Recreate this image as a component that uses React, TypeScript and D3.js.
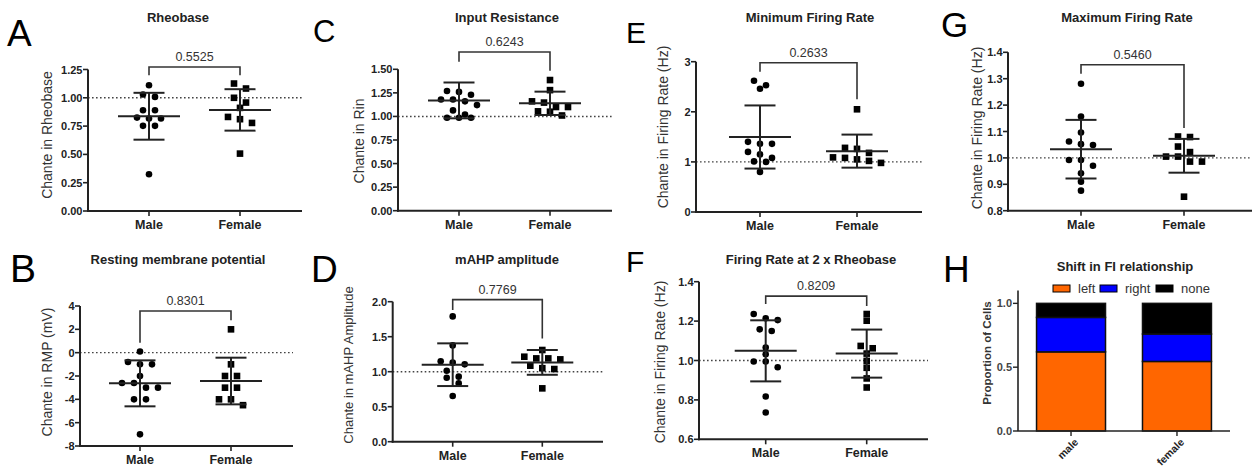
import React from 'react';
import * as d3 from 'd3';

const groups = ['Male', 'Female'];

// A: Rheobase
const rheobaseMale = [1.111, 1.029, 1.008, 0.89, 0.89, 0.825, 0.817, 0.817, 0.752, 0.752, 0.324];
const rheobaseFemale = [1.126, 1.082, 1.0, 0.958, 0.911, 0.831, 0.811, 0.778, 0.507];
const rheobaseMean = [0.837, 0.893];
const rheobaseSD = [0.207, 0.183];
const rheobaseTicks = [0, 0.25, 0.5, 0.75, 1.0, 1.25];
const rheobaseP = '0.5525';

// C: Input resistance
const rinMale = [1.27, 1.26, 1.23, 1.18, 1.18, 1.16, 1.12, 1.064, 1.02, 0.986, 0.986, 0.986];
const rinFemale = [1.386, 1.279, 1.16, 1.147, 1.1, 1.1, 1.054, 1.05, 1.01];
const rinMean = [1.17, 1.139];
const rinSD = [0.19, 0.124];
const rinTicks = [0, 0.25, 0.5, 0.75, 1.0, 1.25, 1.5];
const rinP = '0.6243';

// E: Minimum firing rate
const minRateMale = [2.62, 2.53, 2.46, 1.4, 1.36, 1.36, 1.2, 1.15, 1.08, 1.01, 1.0, 0.8];
const minRateFemale = [2.05, 1.28, 1.26, 1.18, 1.09, 1.08, 1.05, 1.02, 0.98];
const minRateMean = [1.497, 1.215];
const minRateSD = [0.63, 0.33];
const minRateTicks = [0, 1, 2, 3];
const minRateP = '0.2633';

// G: Maximum firing rate
const maxRateMale = [1.281, 1.157, 1.096, 1.062, 1.052, 1.049, 0.992, 0.992, 0.97, 0.942, 0.91, 0.876];
const maxRateFemale = [1.081, 1.079, 1.043, 1.022, 1.005, 1.005, 0.986, 0.986, 0.853];
const maxRateMean = [1.033, 1.008];
const maxRateSD = [0.111, 0.064];
const maxRateTicks = [0.8, 0.9, 1.0, 1.1, 1.2, 1.3, 1.4];
const maxRateP = '0.5460';

// B: Resting membrane potential
const rmpMale = [0.1, -0.8, -1.0, -1.0, -2.0, -2.6, -2.6, -3.0, -3.0, -4.0, -4.0, -7.0];
const rmpFemale = [2.0, -1.0, -2.0, -2.0, -3.0, -3.0, -4.0, -4.0, -4.5];
const rmpMean = [-2.63, -2.43];
const rmpSD = [1.97, 2.0];
const rmpTicks = [-8, -6, -4, -2, 0, 2, 4];
const rmpP = '0.8301';

// D: mAHP amplitude
const mahpMale = [1.79, 1.376, 1.148, 1.129, 1.105, 1.014, 0.929, 0.914, 0.833, 0.652];
const mahpFemale = [1.31, 1.214, 1.19, 1.19, 1.176, 1.086, 1.05, 1.038, 0.762];
const mahpMean = [1.1, 1.133];
const mahpSD = [0.305, 0.177];
const mahpTicks = [0, 0.5, 1.0, 1.5, 2.0];
const mahpP = '0.7769';

// F: Firing rate at 2x rheobase
const rate2xMale = [1.236, 1.214, 1.205, 1.158, 1.15, 1.066, 1.032, 0.995, 0.995, 0.966, 0.817, 0.736];
const rate2xFemale = [1.236, 1.202, 1.074, 1.062, 1.035, 0.998, 0.963, 0.909, 0.863];
const rate2xMean = [1.049, 1.035];
const rate2xSD = [0.155, 0.122];
const rate2xTicks = [0.6, 0.8, 1.0, 1.2, 1.4];
const rate2xP = '0.8209';

// H: Shift in FI relationship
const fiCategories = ['male', 'female'];
const fiKeys = ['left', 'right', 'none'];
const fiLeft = [0.62, 0.545];
const fiRight = [0.27, 0.215];
const fiNone = [0.11, 0.24];
const fiColors = ['#FF6600', '#0000FF', '#000000'];
const fiTicks = [0, 0.5, 1.0];

const FONT = '"Liberation Sans", Arial, Helvetica, sans-serif';
const INK = '#222';

type DotPanelCfg = {
  letter: string; letterX: number; letterY: number; letterSize: number;
  title: string; titleX: number; titleY: number;
  ylabel: string; ylabelX: number; ylabelY: number; ylabelSize: number;
  x0: number; x1: number; cx0: number; cx1: number; yTop: number; yBot: number;
  domain: [number, number]; ticks: number[]; decimals: number; ref: number;
  male: number[]; female: number[]; mean: number[]; sd: number[]; p: string;
  bracket: [number, number, number]; // top, male leg end, female leg end (data units)
};

const panels: DotPanelCfg[] = [
  { letter: 'A', letterX: 7, letterY: 46, letterSize: 37, title: 'Rheobase', titleX: 178, titleY: 22,
    ylabel: 'Chante in Rheobase', ylabelX: 47, ylabelY: 135, ylabelSize: 14,
    x0: 88, x1: 302, cx0: 149, cx1: 240, yTop: 69.5, yBot: 211, domain: [0, 1.25], ticks: rheobaseTicks, decimals: 2, ref: 1,
    male: rheobaseMale, female: rheobaseFemale, mean: rheobaseMean, sd: rheobaseSD, p: rheobaseP, bracket: [1.272, 1.2, 1.2] },
  { letter: 'C', letterX: 313, letterY: 42, letterSize: 31, title: 'Input Resistance', titleX: 507, titleY: 22,
    ylabel: 'Chante in Rin', ylabelX: 359, ylabelY: 141, ylabelSize: 14,
    x0: 398, x1: 612, cx0: 459, cx1: 550, yTop: 69.3, yBot: 210.7, domain: [0, 1.5], ticks: rinTicks, decimals: 2, ref: 1,
    male: rinMale, female: rinFemale, mean: rinMean, sd: rinSD, p: rinP, bracket: [1.683, 1.58, 1.485] },
  { letter: 'E', letterX: 626, letterY: 43, letterSize: 30, title: 'Minimum Firing Rate', titleX: 810, titleY: 22,
    ylabel: 'Chante in Firing Rate (Hz)', ylabelX: 663, ylabelY: 127, ylabelSize: 14,
    x0: 696, x1: 922, cx0: 760, cx1: 857, yTop: 61.7, yBot: 212, domain: [0, 3], ticks: minRateTicks, decimals: 0, ref: 1,
    male: minRateMale, female: minRateFemale, mean: minRateMean, sd: minRateSD, p: minRateP, bracket: [2.98, 2.8, 2.25] },
  { letter: 'G', letterX: 941, letterY: 37, letterSize: 35, title: 'Maximum Firing Rate', titleX: 1127, titleY: 22,
    ylabel: 'Chante in Firing Rate (Hz)', ylabelX: 977, ylabelY: 128, ylabelSize: 14,
    x0: 1008, x1: 1252, cx0: 1081, cx1: 1184, yTop: 52.3, yBot: 210.7, domain: [0.8, 1.4], ticks: maxRateTicks, decimals: 1, ref: 1,
    male: maxRateMale, female: maxRateFemale, mean: maxRateMean, sd: maxRateSD, p: maxRateP, bracket: [1.353, 1.319, 1.113] },
  { letter: 'B', letterX: 10, letterY: 282, letterSize: 39, title: 'Resting membrane potential', titleX: 178, titleY: 264,
    ylabel: 'Chante in RMP (mV)', ylabelX: 47, ylabelY: 372, ylabelSize: 14,
    x0: 80, x1: 293, cx0: 140, cx1: 231, yTop: 306, yBot: 446, domain: [-8, 4], ticks: rmpTicks, decimals: 0, ref: 0,
    male: rmpMale, female: rmpFemale, mean: rmpMean, sd: rmpSD, p: rmpP, bracket: [3.57, 0.86, 2.77] },
  { letter: 'D', letterX: 311, letterY: 282, letterSize: 37, title: 'mAHP amplitude', titleX: 507, titleY: 264,
    ylabel: 'Chante in mAHP Amplitude', ylabelX: 348, ylabelY: 365, ylabelSize: 13,
    x0: 392.7, x1: 603, cx0: 452.7, cx1: 542.3, yTop: 301.7, yBot: 441.7, domain: [0, 2], ticks: mahpTicks, decimals: 1, ref: 1,
    male: mahpMale, female: mahpFemale, mean: mahpMean, sd: mahpSD, p: mahpP, bracket: [2.03, 1.88, 1.476] },
  { letter: 'F', letterX: 626, letterY: 272, letterSize: 30, title: 'Firing Rate at 2 x Rheobase', titleX: 811, titleY: 264,
    ylabel: 'Chante in Firing Rate (Hz)', ylabelX: 660, ylabelY: 362, ylabelSize: 14,
    x0: 699, x1: 928, cx0: 765.7, cx1: 866.7, yTop: 281.7, yBot: 439.3, domain: [0.6, 1.4], ticks: rate2xTicks, decimals: 1, ref: 1,
    male: rate2xMale, female: rate2xFemale, mean: rate2xMean, sd: rate2xSD, p: rate2xP, bracket: [1.327, 1.287, 1.277] },
];

function swarm(values: number[], y: (v: number) => number, spacing: number, thresh: number) {
  const sorted = values.map(v => ({ v, py: y(v) })).sort((a, b) => a.py - b.py);
  const out: { v: number; py: number; dx: number }[] = [];
  let i = 0;
  while (i < sorted.length) {
    const start = sorted[i].py;
    let j = i;
    while (j < sorted.length && sorted[j].py - start < thresh) j++;
    const n = j - i;
    for (let k = 0; k < n; k++) {
      out.push({ ...sorted[i + k], dx: (k - (n - 1) / 2) * spacing });
    }
    i = j;
  }
  return out;
}

function DotPanel({ p }: { p: DotPanelCfg }) {
  const y = d3.scaleLinear().domain(p.domain).range([p.yBot, p.yTop]);
  const x = d3.scalePoint<string>().domain(groups).range([p.cx0, p.cx1]);
  const fmt = (v: number) => v.toFixed(p.decimals);
  const series = [p.male, p.female];
  const bx0 = x('Male')!;
  const bx1 = x('Female')!;
  const bracketPath = `M${bx0},${y(p.bracket[1])}V${y(p.bracket[0])}H${bx1}V${y(p.bracket[2])}`;
  return (
    <g>
      <text x={p.letterX} y={p.letterY} fontSize={p.letterSize} fontFamily={FONT} fill="#000">{p.letter}</text>
      <text x={p.titleX} y={p.titleY} textAnchor="middle" fontSize={13} fontWeight="bold" fontFamily={FONT} fill={INK}>{p.title}</text>
      <text transform={`translate(${p.ylabelX},${p.ylabelY}) rotate(-90)`} textAnchor="middle" dominantBaseline="central"
        fontSize={p.ylabelSize} fontFamily={FONT} fill="#333">{p.ylabel}</text>
      {/* reference line */}
      <line x1={p.x0} x2={p.x1} y1={y(p.ref)} y2={y(p.ref)} stroke="#444" strokeWidth={1.4} strokeDasharray="1.6,2.4" />
      {/* axes */}
      <line x1={p.x0} x2={p.x0} y1={p.yTop} y2={p.yBot + 1} stroke={INK} strokeWidth={2} />
      <line x1={p.x0 - 1} x2={p.x1} y1={p.yBot} y2={p.yBot} stroke={INK} strokeWidth={2} />
      {p.ticks.map(t => (
        <g key={t}>
          <line x1={p.x0 - 5} x2={p.x0} y1={y(t)} y2={y(t)} stroke={INK} strokeWidth={1.6} />
          <text x={p.x0 - 5.5} y={y(t)} textAnchor="end" dominantBaseline="central" fontSize={11} fontWeight="bold"
            fontFamily={FONT} fill={INK}>{fmt(t)}</text>
        </g>
      ))}
      {groups.map(g => (
        <g key={g}>
          <line x1={x(g)} x2={x(g)} y1={p.yBot} y2={p.yBot + 5} stroke={INK} strokeWidth={1.6} />
          <text x={x(g)} y={p.yBot + 18} textAnchor="middle" fontSize={12.5} fontWeight="bold" fontFamily={FONT} fill={INK}>{g}</text>
        </g>
      ))}
      {/* points */}
      {series.map((vals, si) => {
        const cx = x(groups[si])!;
        return swarm(vals, y, 12, 6.2).map((d, k) =>
          si === 0 ? (
            <circle key={`${si}-${k}`} cx={cx + d.dx} cy={d.py} r={3.3} fill="#000" />
          ) : (
            <rect key={`${si}-${k}`} x={cx + d.dx - 3.3} y={d.py - 3.3} width={6.6} height={6.6} fill="#000" />
          )
        );
      })}
      {/* mean and SD */}
      {groups.map((g, i) => {
        const cx = x(g)!;
        const m = p.mean[i];
        const s = p.sd[i];
        return (
          <g key={g} stroke={INK} strokeWidth={2}>
            <line x1={cx} x2={cx} y1={y(m + s)} y2={y(m - s)} />
            <line x1={cx - 31} x2={cx + 31} y1={y(m)} y2={y(m)} />
            <line x1={cx - 15.5} x2={cx + 15.5} y1={y(m + s)} y2={y(m + s)} />
            <line x1={cx - 15.5} x2={cx + 15.5} y1={y(m - s)} y2={y(m - s)} />
          </g>
        );
      })}
      {/* bracket */}
      <path d={bracketPath} fill="none" stroke="#333" strokeWidth={1.6} />
      <text x={(bx0 + bx1) / 2} y={y(p.bracket[0]) - 6} textAnchor="middle" fontSize={12.5} fontFamily={FONT} fill="#333">{p.p}</text>
    </g>
  );
}

function StackPanel() {
  const x0 = 1018, x1 = 1230, yBot = 431, yTop = 290.6;
  const rows = fiCategories.map((c, i) => ({ category: c, left: fiLeft[i], right: fiRight[i], none: fiNone[i] }));
  const stack = d3.stack<any>().keys(fiKeys)(rows);
  const x = d3.scaleBand<string>().domain(fiCategories).range([x0, x1]).paddingInner(0.349).paddingOuter(0.175);
  const y = d3.scaleLinear().domain([0, 1.1]).range([yBot, yTop]);
  const legendItems = [
    { key: 'left', sx: 1053, tx: 1078 },
    { key: 'right', sx: 1100, tx: 1125 },
    { key: 'none', sx: 1156, tx: 1181 },
  ];
  return (
    <g>
      <text x={943} y={282} fontSize={37} fontFamily={FONT} fill="#000">H</text>
      <text x={1125} y={271} textAnchor="middle" fontSize={13} fontWeight="bold" fontFamily={FONT} fill={INK}>Shift in FI relationship</text>
      {legendItems.map((it, i) => (
        <g key={it.key}>
          <rect x={it.sx} y={285} width={17} height={7} fill={fiColors[i]} stroke="#000" strokeWidth={1} />
          <text x={it.tx} y={293} fontSize={13} fontFamily={FONT} fill="#333">{fiKeys[i]}</text>
        </g>
      ))}
      <text transform={`translate(987,353) rotate(-90)`} textAnchor="middle" dominantBaseline="central" fontSize={11.5}
        fontWeight="bold" fontFamily={FONT} fill="#333">Proportion of Cells</text>
      {stack.map((layer, li) => (
        <g key={layer.key}>
          {layer.map((d, di) => (
            <rect key={di} x={x(fiCategories[di])} y={y(d[1])} width={x.bandwidth()} height={y(d[0]) - y(d[1])}
              fill={fiColors[li]} stroke="#111" strokeWidth={1.5} />
          ))}
        </g>
      ))}
      <line x1={x0} x2={x0} y1={yTop} y2={yBot} stroke={INK} strokeWidth={1.6} />
      <line x1={x0} x2={x1} y1={yBot} y2={yBot} stroke={INK} strokeWidth={1.6} />
      {fiTicks.map(t => (
        <g key={t}>
          <line x1={x0 - 5} x2={x0} y1={y(t)} y2={y(t)} stroke={INK} strokeWidth={1.4} />
          <text x={x0 - 6} y={y(t)} textAnchor="end" dominantBaseline="central" fontSize={11} fontWeight="bold"
            fontFamily={FONT} fill="#444">{t.toFixed(1)}</text>
        </g>
      ))}
      {fiCategories.map(c => {
        const cx = x(c)! + x.bandwidth() / 2;
        return (
          <g key={c}>
            <line x1={cx} x2={cx} y1={yBot} y2={yBot + 5} stroke={INK} strokeWidth={1.4} />
            <text transform={`translate(${cx + 5},${yBot + 9}) rotate(-45)`} textAnchor="end" dominantBaseline="central"
              fontSize={10.5} fontWeight="bold" fontFamily={FONT} fill={INK}>{c}</text>
          </g>
        );
      })}
    </g>
  );
}

export default function App() {
  return (
    <svg width={1253} height={468} style={{ position: 'absolute', left: 0, top: 0, background: '#fff' }}>
      <rect width={1253} height={468} fill="#fff" />
      {panels.map(p => <DotPanel key={p.letter} p={p} />)}
      <StackPanel />
    </svg>
  );
}
